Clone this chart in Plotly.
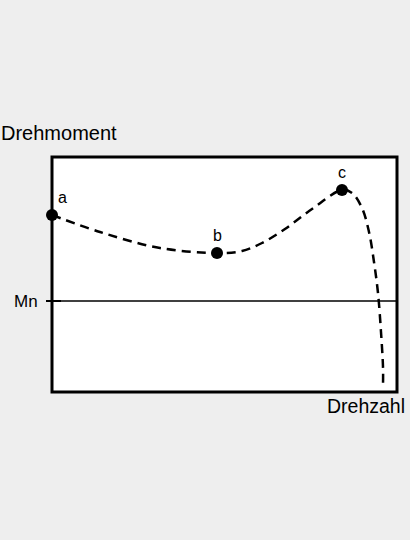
import plotly.graph_objects as go

# Torque-speed curve (arbitrary units)
curve_x = [0, 48, 108, 165, 190, 210, 233, 260, 290, 300, 310, 317, 322, 326, 329, 331, 331]
curve_y = [177, 160, 144, 139, 141, 149, 163, 183, 202, 199, 184, 160, 130, 99, 60, 25, 7]

point_labels = ["a", "b", "c"]
point_x = [0, 165, 290]
point_y = [177, 139, 202]

mn_value = 91
x_range = [0, 345]
y_range = [0, 235]

FONT = "Liberation Sans, Arial, sans-serif"

fig = go.Figure()
fig.add_trace(go.Scatter(
    x=curve_x, y=curve_y, mode="lines", line_shape="spline",
    line=dict(color="black", width=2.5, dash="9px,6px"),
    hoverinfo="skip", cliponaxis=False,
))
fig.add_trace(go.Scatter(
    x=point_x, y=point_y, mode="markers",
    marker=dict(color="black", size=12),
    cliponaxis=False,
))

# Mn line and tick
fig.add_shape(type="line", xref="x", yref="y", x0=x_range[0], x1=x_range[1], y0=mn_value, y1=mn_value,
              line=dict(color="black", width=1.5))
fig.add_shape(type="line", xref="paper", yref="y", x0=-6 / 345, x1=9 / 345, y0=mn_value, y1=mn_value,
              line=dict(color="black", width=2))
# border
fig.add_shape(type="rect", xref="paper", yref="paper", x0=0, x1=1, y0=0, y1=1,
              line=dict(color="black", width=3))

for lbl, px, py in zip(point_labels, point_x, point_y):
    fig.add_annotation(x=px, y=py, text=lbl, showarrow=False, yshift=18,
                       xshift=10 if lbl == "a" else 0,
                       font=dict(family=FONT, size=16, color="black"))

fig.add_annotation(x=-0.153, y=1.102, xref="paper", yref="paper", text="Drehmoment", showarrow=False,
                   xanchor="left", yanchor="middle", font=dict(family=FONT, size=20, color="black"))
fig.add_annotation(x=1.03, y=-0.058, xref="paper", yref="paper", text="Drehzahl", showarrow=False,
                   xanchor="right", yanchor="middle", font=dict(family=FONT, size=19.5, color="black"))
fig.add_annotation(x=-0.035, y=mn_value / 235, xref="paper", yref="paper", text="Mn", showarrow=False,
                   xanchor="right", yanchor="middle", font=dict(family=FONT, size=17, color="black"))

fig.update_xaxes(range=x_range, visible=False, fixedrange=True)
fig.update_yaxes(range=y_range, visible=False, fixedrange=True)
fig.update_layout(
    width=410, height=540,
    margin=dict(l=52, r=13, t=157, b=148),
    paper_bgcolor="#eeeeee", plot_bgcolor="white",
    showlegend=False,
)
fig.write_html("out.html", config={"displayModeBar": False},
               post_script="document.body.style.margin='0';document.body.style.background='#eeeeee';")
